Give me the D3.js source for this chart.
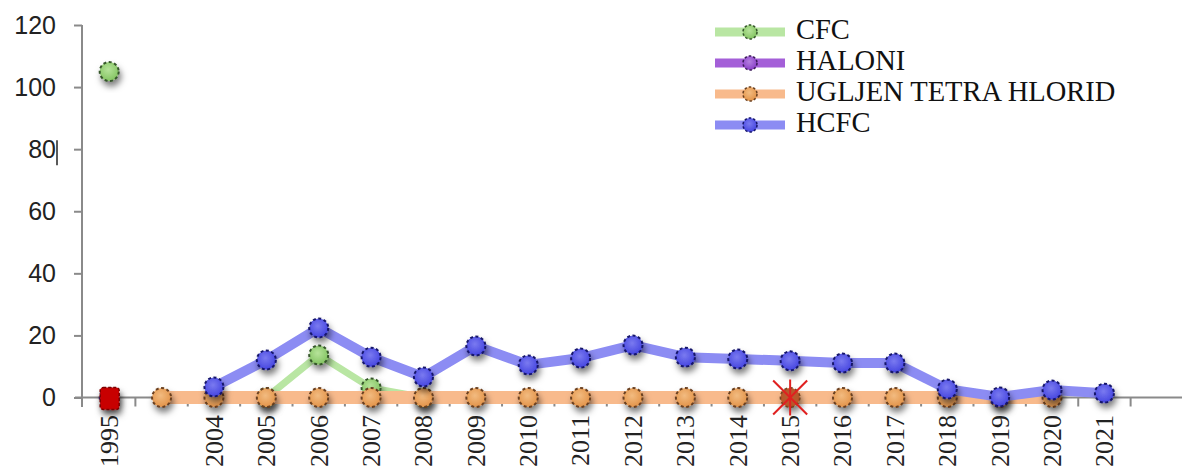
<!DOCTYPE html>
<html><head><meta charset="utf-8">
<script src="https://cdn.jsdelivr.net/npm/d3@7/dist/d3.min.js"></script>
<style>html,body{margin:0;padding:0;background:#fff;overflow:hidden}</style>
</head><body><svg id="c" width="1182" height="475"></svg>
<script>
// ---- data ----
const categories = ["1995","","2004","2005","2006","2007","2008","2009","2010","2011","2012","2013","2014","2015","2016","2017","2018","2019","2020","2021",""];
const cfc    = [105,null,null,0,13.7,3.1,0,null,null,null,null,null,null,null,null,null,null,null,null,null,null];
const haloni = [0,null,null,null,null,null,null,null,null,null,null,null,null,null,null,null,null,null,null,null,null];
const ugljen = [null,0,0,0,0,0,0,0,0,0,0,0,0,0,0,0,0,0,0,null,null];
const hcfc   = [null,null,3.4,12.1,22.4,13,6.6,16.6,10.5,12.7,16.9,13,12.4,11.8,11.1,11.1,2.7,0.2,2.4,1.4,null];
const yTicks = [0,20,40,60,80,100,120];
const seriesNames = ["CFC","HALONI","UGLJEN TETRA HLORID","HCFC"];
const flagged = [{index:0, value:0, shape:"square"},{index:13, value:0, shape:"asterisk"}];

// ---- styles ----
const styles = [
  {line:"#b9e6a3", fill:"#84c462", hi:"#b6e39a", stroke:"#35562a", w:7},
  {line:"#a45fd8", fill:"#8a40c8", hi:"#b580e0", stroke:"#3c1a5a", w:8},
  {line:"#f8ba8c", fill:"#e3944a", hi:"#f2bb80", stroke:"#6a4020", w:13},
  {line:"#8c8cf3", fill:"#4646e0", hi:"#7a7af0", stroke:"#15156a", w:10}
];
const seriesData = [cfc, haloni, ugljen, hcfc];

const svg = d3.select("#c");
const defs = svg.append("defs");
const f = defs.append("filter").attr("id","sh").attr("x","-60%").attr("y","-60%").attr("width","220%").attr("height","220%");
f.append("feDropShadow").attr("dx",2).attr("dy",5).attr("stdDeviation",3).attr("flood-color","#000").attr("flood-opacity",0.5);
styles.forEach((s,i)=>{
  const g = defs.append("radialGradient").attr("id","g"+i).attr("cx","45%").attr("cy","40%").attr("r","60%");
  g.append("stop").attr("offset","0%").attr("stop-color",s.hi);
  g.append("stop").attr("offset","100%").attr("stop-color",s.fill);
});

const x = d3.scaleBand().domain(d3.range(categories.length)).range([83,1183]).paddingInner(0).paddingOuter(0);
const y = d3.scaleLinear().domain([0,120]).range([397.5,25]);
const cx = i => x(i) + x.bandwidth()/2;

// axes
const yAxis = d3.axisLeft(y).tickValues(yTicks).tickSize(8).tickPadding(18);
const gy = svg.append("g").attr("transform","translate(82,0)").call(yAxis);
gy.select(".domain").attr("stroke","#8a8a8a").attr("stroke-width",2).attr("d","M0,25V407");
gy.selectAll(".tick line").attr("stroke","#8a8a8a").attr("stroke-width",2);
gy.selectAll(".tick text").attr("font-family","Liberation Sans, Arial, sans-serif").attr("font-size",25).attr("fill","#222");
// cursor artifact after "80"
svg.append("line").attr("x1",57).attr("x2",57).attr("y1",y(80)-9).attr("y2",y(80)+16).attr("stroke","#222").attr("stroke-width",1.5);

const xAxis = d3.axisBottom(x).tickFormat(()=>"").tickSize(0);
const gx = svg.append("g").attr("transform","translate(0,"+y(0)+")").call(xAxis);
gx.select(".domain").attr("stroke","#8a8a8a").attr("stroke-width",2).attr("d","M75,0H1182");
// boundary ticks
gx.selectAll(".bt").data(d3.range(1,categories.length+1)).enter().append("line")
  .attr("x1",i=>x(i-1)+x.bandwidth()).attr("x2",i=>x(i-1)+x.bandwidth())
  .attr("y1",0).attr("y2",9).attr("stroke","#8a8a8a").attr("stroke-width",2);
// x labels
svg.append("g").selectAll("text").data(categories.map((c,i)=>({c,i}))).enter().append("text")
  .attr("transform",d=>"translate("+cx(d.i)+",415) rotate(-90)")
  .attr("text-anchor","end").attr("dy","0.34em")
  .attr("font-family","Liberation Serif, Times New Roman, serif").attr("font-size",26).attr("fill","#222")
  .text(d=>d.c);

// series
const line = d3.line().defined(d=>d.v!==null).x(d=>cx(d.i)).y(d=>y(d.v));
seriesData.forEach((arr,k)=>{
  const s = styles[k];
  const pts = arr.map((v,i)=>({v,i}));
  svg.append("path").datum(pts).attr("d",line).attr("fill","none")
    .attr("stroke",s.line).attr("stroke-width",s.w).attr("stroke-linejoin","round");
  svg.append("g").selectAll("circle").data(pts.filter(d=>d.v!==null)).enter().append("circle")
    .attr("cx",d=>cx(d.i)).attr("cy",d=>y(d.v)).attr("r",9.5)
    .attr("fill","url(#g"+k+")").attr("stroke",s.stroke).attr("stroke-width",2)
    .attr("stroke-dasharray","3,2.5").attr("filter","url(#sh)");
});

// flagged points
flagged.forEach(p=>{
  const px = cx(p.index), py = y(p.value);
  if(p.shape==="square"){
    svg.append("rect").attr("x",px-9).attr("y",py-10).attr("width",19).attr("height",22)
      .attr("rx",3).attr("fill","#c80000").attr("stroke","#7a0000").attr("stroke-width",1.5)
      .attr("stroke-dasharray","3,2").attr("filter","url(#sh)");
  } else {
    svg.append("circle").attr("cx",px).attr("cy",py).attr("r",9.5).attr("fill","#b04a22").attr("opacity",0.85);
    const g = svg.append("g").attr("stroke","#e02020").attr("stroke-width",2);
    [[-17,-17,17,17],[-17,17,17,-17],[0,-18,0,18]].forEach(a=>{
      g.append("line").attr("x1",px+a[0]).attr("y1",py+a[1]).attr("x2",px+a[2]).attr("y2",py+a[3]);
    });
  }
});

// legend
const lg = svg.append("g");
seriesNames.forEach((n,k)=>{
  const s = styles[k];
  const ly = 32 + k*31;
  lg.append("line").attr("x1",715).attr("x2",785).attr("y1",ly).attr("y2",ly)
    .attr("stroke",s.line).attr("stroke-width",9);
  lg.append("circle").attr("cx",750).attr("cy",ly).attr("r",7)
    .attr("fill","url(#g"+k+")").attr("stroke",s.stroke).attr("stroke-width",1.5).attr("stroke-dasharray","2.5,2");
  lg.append("text").attr("x",796).attr("y",ly+7)
    .attr("font-family","Liberation Serif, Times New Roman, serif").attr("font-size",28.5).attr("fill","#111")
    .text(n);
});
</script></body></html>
